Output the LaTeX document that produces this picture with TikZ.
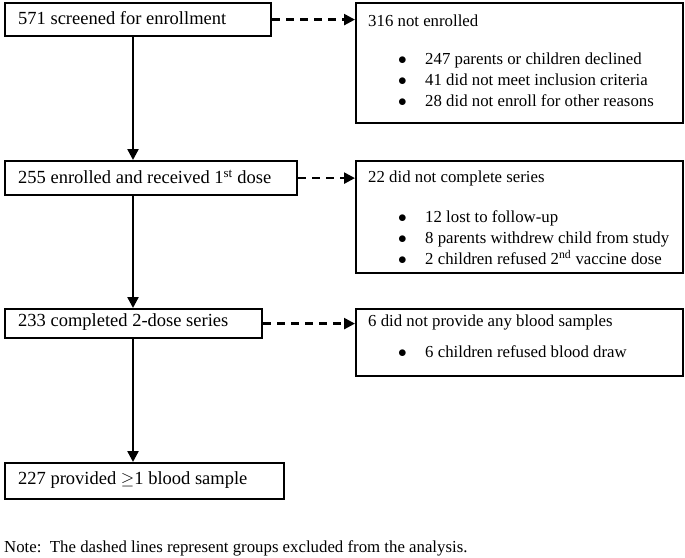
\documentclass[tikz,border=0pt]{standalone}
\usepackage{fontspec}
\setmainfont{Liberation Serif}
\usetikzlibrary{arrows.meta}
\begin{document}
\begin{tikzpicture}[x=1pt,y=-1pt,
  box/.style={draw,line width=2.2pt,anchor=north west,inner sep=0pt},
  lbl/.style={anchor=west,inner sep=0pt,font=\fontsize{18.5}{21}\selectfont},
  rl/.style={anchor=west,inner sep=0pt,font=\fontsize{16.8}{21}\selectfont},
  solidarr/.style={line width=2.4pt,-{Triangle[length=11pt,width=11pt]}},
  dasharr/.style={line width=2.4pt,dash pattern=on 8pt off 6pt,-{Triangle[length=11pt,width=11pt]}},
  bul/.style={anchor=west,inner sep=0pt,align=left,font=\fontsize{16.8}{21}\selectfont}]
\useasboundingbox (0,0) rectangle (685,557);
\node[box,minimum width=266pt,minimum height=33pt] (b1) at (4,2) {};
\node[lbl] (t1) at (18,18) {571 screened for enrollment};
\node[box,minimum width=327pt,minimum height=120pt] (r1) at (355,2) {};
\node[rl] (tr1) at (368,21) {316 not enrolled};
\node[bul] (br1) at (398,80) {\makebox[27pt][l]{$\bullet$}247 parents or children declined\\
\makebox[27pt][l]{$\bullet$}41 did not meet inclusion criteria\\
\makebox[27pt][l]{$\bullet$}28 did not enroll for other reasons};

\node[box,minimum width=292pt,minimum height=34pt] (b2) at (4,160) {};
\node[lbl] (t2) at (18,177) {255 enrolled and received 1\textsuperscript{st} dose};
\node[box,minimum width=327pt,minimum height=112pt] (r2) at (355,160) {};
\node[rl] (tr2) at (368,178) {22 did not complete series};
\node[bul] (br2) at (398,238) {\makebox[27pt][l]{$\bullet$}12 lost to follow-up\\
\makebox[27pt][l]{$\bullet$}8 parents withdrew child from study\\
\makebox[27pt][l]{$\bullet$}2 children refused 2\textsuperscript{nd} vaccine dose};

\node[box,minimum width=257pt,minimum height=29pt] (b3) at (4,308) {};
\node[lbl] (t3) at (18,322) {233 completed 2-dose series};
\node[box,minimum width=327pt,minimum height=67pt] (r3) at (355,308) {};
\node[rl] (tr3) at (368,322) {6 did not provide any blood samples};
\node[bul] (br3) at (398,352) {\makebox[27pt][l]{$\bullet$}6 children refused blood draw};

\node[box,minimum width=279pt,minimum height=36pt] (b4) at (4,462) {};
\node[lbl] (t4) at (18,480) {227 provided $\geq$1 blood sample};

\node[rl] (note) at (4,548) {Note:\ \ The dashed lines represent groups excluded from the analysis.};

\draw[solidarr] (b1.south -| 133,0) -- (b2.north -| 133,0);
\draw[solidarr] (b2.south -| 133,0) -- (b3.north -| 133,0);
\draw[solidarr] (b3.south -| 133,0) -- (b4.north -| 133,0);
\draw[dasharr] (b1.east) -- (b1.east -| r1.west);
\draw[dasharr] (b2.east) -- (b2.east -| r2.west);
\draw[dasharr] (b3.east) -- (b3.east -| r3.west);
\end{tikzpicture}
\end{document}
